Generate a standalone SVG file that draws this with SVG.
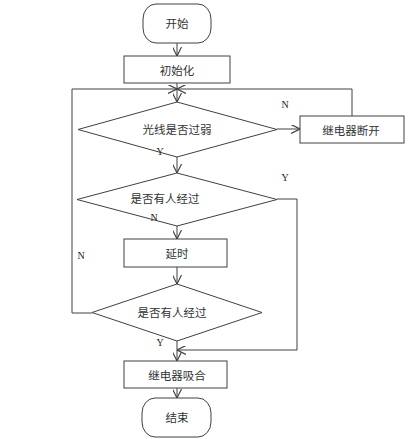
<svg xmlns="http://www.w3.org/2000/svg" width="415" height="439" viewBox="0 0 415 439">
<defs>
<style>
.s{fill:#fff;stroke:#404040;stroke-width:1}
.c{fill:none;stroke:#404040;stroke-width:1}
.t{font-family:"Noto Sans CJK SC","Noto Sans",sans-serif;font-size:11.5px;fill:#333;text-anchor:middle;dominant-baseline:central}
.l{font-family:"Liberation Serif",serif;font-size:10px;fill:#222;text-anchor:middle;dominant-baseline:central}
</style>
<marker id="a" viewBox="0 0 10 10" refX="10" refY="5" markerWidth="9" markerHeight="9" markerUnits="userSpaceOnUse" orient="auto">
<path d="M0,0 L10,5 L0,10" fill="none" stroke="#404040" stroke-width="1.3"/>
</marker>
</defs>
<rect width="415" height="439" fill="#fff"/>
<g id="connectors">
<line class="c" x1="177" y1="43" x2="177" y2="56" marker-end="url(#a)"/>
<line class="c" x1="177" y1="83" x2="177" y2="102" marker-end="url(#a)"/>
<line class="c" x1="277" y1="129" x2="300" y2="129" marker-end="url(#a)"/>
<polyline class="c" points="352,116 352,89 177,89" marker-end="url(#a)"/>
<line class="c" x1="177" y1="157" x2="177" y2="173" marker-end="url(#a)"/>
<line class="c" x1="177" y1="226" x2="177" y2="239" marker-end="url(#a)"/>
<line class="c" x1="177" y1="267" x2="177" y2="284" marker-end="url(#a)"/>
<polyline class="c" points="92,313 72,313 72,89 177,89" marker-end="url(#a)"/>
<polyline class="c" points="277,199 297,199 297,350 177,350" marker-end="url(#a)"/>
<line class="c" x1="177" y1="341" x2="177" y2="361" marker-end="url(#a)"/>
<line class="c" x1="177" y1="388" x2="177" y2="398" marker-end="url(#a)"/>
</g>
<g id="start">
<rect class="s" x="143" y="4" width="68" height="39" rx="13" ry="15"/>
<text class="t" x="177" y="23">开始</text>
</g>
<g id="init">
<rect class="s" x="124" y="56" width="106" height="27"/>
<text class="t" x="177" y="70">初始化</text>
</g>
<g id="light">
<polygon class="s" points="177,102 277,129.5 177,157 78,129.5"/>
<text class="t" x="177" y="129">光线是否过弱</text>
</g>
<g id="relayOff">
<rect class="s" x="300" y="116" width="104" height="27"/>
<text class="t" x="351" y="129.5">继电器断开</text>
</g>
<g id="person1">
<polygon class="s" points="177,173 277,199.5 177,226 77,199.5"/>
<text class="t" x="165" y="198">是否有人经过</text>
</g>
<g id="delay">
<rect class="s" x="124" y="239" width="103" height="28"/>
<text class="t" x="177" y="253">延时</text>
</g>
<g id="person2">
<polygon class="s" points="177,284 262,312.5 177,341 92,312.5"/>
<text class="t" x="172" y="312">是否有人经过</text>
</g>
<g id="relayOn">
<rect class="s" x="124" y="361" width="103" height="27"/>
<text class="t" x="177" y="374.5">继电器吸合</text>
</g>
<g id="end">
<rect class="s" x="142" y="398" width="69" height="39" rx="13" ry="15"/>
<text class="t" x="177" y="417">结束</text>
</g>
<g id="labels">
<text class="l" x="285" y="104">N</text>
<text class="l" x="160" y="151" font-size="8">Y</text>
<text class="l" x="285" y="177">Y</text>
<text class="l" x="154" y="217">N</text>
<text class="l" x="81" y="255">N</text>
<text class="l" x="160" y="342">Y</text>
</g>
</svg>
